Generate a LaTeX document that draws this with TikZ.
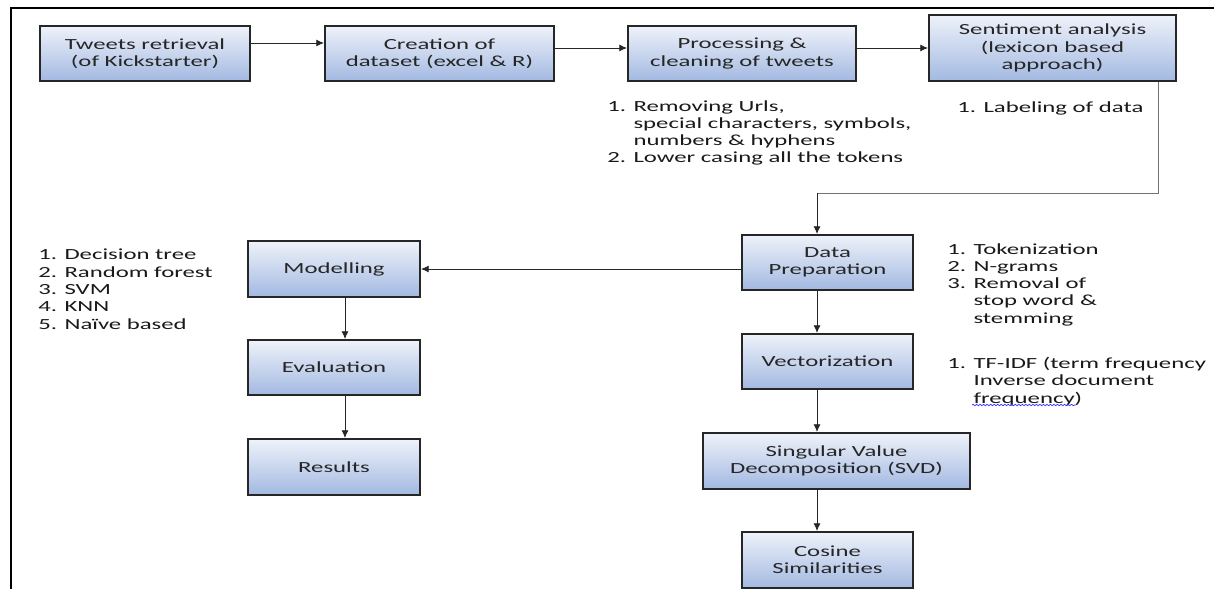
\documentclass[tikz,border=0pt]{standalone}
\usepackage{fontspec}
\setmainfont{Carlito}[FakeStretch=1.6]
\usetikzlibrary{arrows.meta, decorations.pathmorphing}
\definecolor{boxtop}{RGB}{238,242,250}
\definecolor{boxbot}{RGB}{163,185,225}
\tikzset{
	stage/.style={draw=black!85, line width=1.4pt, top color=boxtop, bottom color=boxbot,
		align=center, inner sep=0pt, minimum width=4.275cm, minimum height=1.375cm, text=black!85},
	note/.style={anchor=north west, align=left, inner sep=0pt, text=black!90},
	flow/.style={->, line width=0.6pt, black!85},
}
\newcommand{\ind}{\phantom{1. }}

\begin{document}
\begin{tikzpicture}[x=0.025cm, y=-0.025cm, font=\fontsize{11}{12.3}\selectfont, >={Latex[length=5.5pt,width=5pt]}]
	\useasboundingbox (0,0) rectangle (1214,589);
	\draw[line width=2pt] (11,589) -- (11,8) -- (1214,8);
	% top row
	\node[stage, minimum width=5.25cm] (tw) at (145,53.5) {Tweets retrieval\\(of Kickstarter)};
	\node[stage, minimum width=5.725cm] (cd) at (439.5,53.5) {Creation of\\dataset (excel \& R)};
	\node[stage, minimum width=5.7cm] (pc) at (742,53.5) {Processing \&\\cleaning of tweets};
	\node[stage, minimum width=6.175cm, minimum height=1.65cm] (sa) at (1052.5,48) {Sentiment analysis\\(lexicon based\\approach)};
	% right column
	\node[stage] (dp) at (827.5,262.5) {Data\\Preparation};
	\node[stage] (vec) at (827.5,361.5) {Vectorization};
	\node[stage, minimum width=6.675cm, minimum height=1.4cm] (svd) at (836.5,461) {Singular Value\\Decomposition (SVD)};
	\node[stage, minimum height=1.4cm] (cos) at (827.5,560) {Cosine\\Similarities};
	% left column
	\node[stage, minimum width=4.3cm, minimum height=1.4cm] (mod) at (334,269) {Modelling};
	\node[stage, minimum width=4.3cm] (ev) at (334,367.5) {Evaluation};
	\node[stage, minimum width=4.3cm, minimum height=1.4cm] (res) at (334,467) {Results};
	% notes
	\node[note] (pcnote) at (607,100) {1. Removing Urls,\\\ind special characters, symbols,\\\ind numbers \& hyphens\\2. Lower casing all the tokens};
	\node[note] (sanote) at (957,101) {1. Labeling of data};
	\node[note] (modnote) at (38,249) {1. Decision tree\\2. Random forest\\3. SVM\\4. KNN\\5. Naïve based};
	\node[note] (dpnote) at (947,243) {1. Tokenization\\2. N-grams\\3. Removal of\\\ind stop word \&\\\ind stemming};
	\node[note] (vecnote) at (947,357) {1. TF-IDF (term frequency\\\ind Inverse document\\\ind frequency)};
	\draw[blue!80, line width=0.5pt, decorate, decoration={snake, amplitude=0.5pt, segment length=2.5pt}]
	(972,405) -- (1076,405);
	% arrows
	\coordinate (turn) at (817,193);
	\coordinate (lcol) at (345,0);
	\draw[flow] (tw.east |- 0,43) -- (cd.west |- 0,43);
	\draw[flow] (cd.east |- 0,48) -- (pc.west |- 0,48);
	\draw[flow] (pc.east |- 0,48) -- (sa.west |- 0,48);
	\draw[black!55, line width=0.7pt] (sa.south -| 1158,0) |- (turn);
	\draw[flow] (turn) -- (turn |- dp.north);
	\draw[flow] (dp.west |- mod.east) -- (mod.east);
	\draw[flow] (dp.south -| turn) -- (vec.north -| turn);
	\draw[flow] (vec.south -| turn) -- (svd.north -| turn);
	\draw[flow] (svd.south -| turn) -- (cos.north -| turn);
	\draw[flow] (mod.south -| lcol) -- (ev.north -| lcol);
	\draw[flow] (ev.south -| lcol) -- (res.north -| lcol);
\end{tikzpicture}
\end{document}
